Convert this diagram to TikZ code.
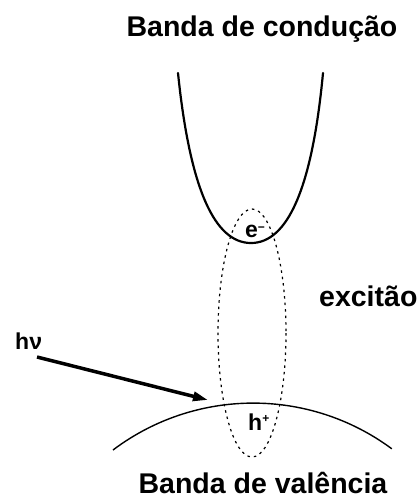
\documentclass[tikz,border=0pt]{standalone}
\usepackage{fontspec}
\setmainfont{Liberation Sans}
\usetikzlibrary{arrows.meta}
\begin{document}
\begin{tikzpicture}[x=1pt,y=-1pt,
  bigtext/.style={inner sep=0pt,font=\fontsize{28.5}{30}\selectfont\bfseries},
  smalltext/.style={inner sep=0pt,font=\fontsize{23}{24}\selectfont\bfseries},
  band/.style={line width=2.2pt,line cap=round},
  vband/.style={line width=1.4pt},
  exciton/.style={line width=1.2pt,dash pattern=on 2.5pt off 4pt},
  photon/.style={line width=3.5pt,-{Triangle[length=15pt,width=9pt]}}]
\useasboundingbox (0,0) rectangle (420,501);
% texts
\node[bigtext,anchor=base] (cb) at (262,36) {Banda de condução};
\node[bigtext,anchor=base] (vb) at (263,493) {Banda de valência};
\node[bigtext,anchor=base west] (exc) at (319,306) {excitão};
\node[smalltext,anchor=base west] (hv) at (15,349) {hν};
\node[smalltext,anchor=base west] (el) at (245,237) {e\raisebox{5.5pt}{\fontsize{12}{12}\selectfont −}};
\node[smalltext,anchor=base west] (ho) at (248,430) {h\raisebox{7.5pt}{\fontsize{12}{12}\selectfont +}};
% conduction band
\coordinate (cl) at (178,73);
\coordinate (cv) at (251,243);
\coordinate (cr) at (323,73);
\draw[band] (cl) .. controls (190,190) and (215,243) .. (cv)
  .. controls (287,243) and (312,190) .. (cr);
% valence band
\coordinate (vl) at (113,450);
\draw[vband] (vl) arc[start angle=233,end angle=306.5,radius=233] coordinate (vr);
% exciton
\coordinate (ex) at (252,333);
\draw[exciton] (ex) ellipse[x radius=34,y radius=124];
% photon arrow
\coordinate (ps) at (37,357);
\coordinate (pe) at (208,400);
\draw[photon] (ps) -- (pe);
\end{tikzpicture}
\end{document}
